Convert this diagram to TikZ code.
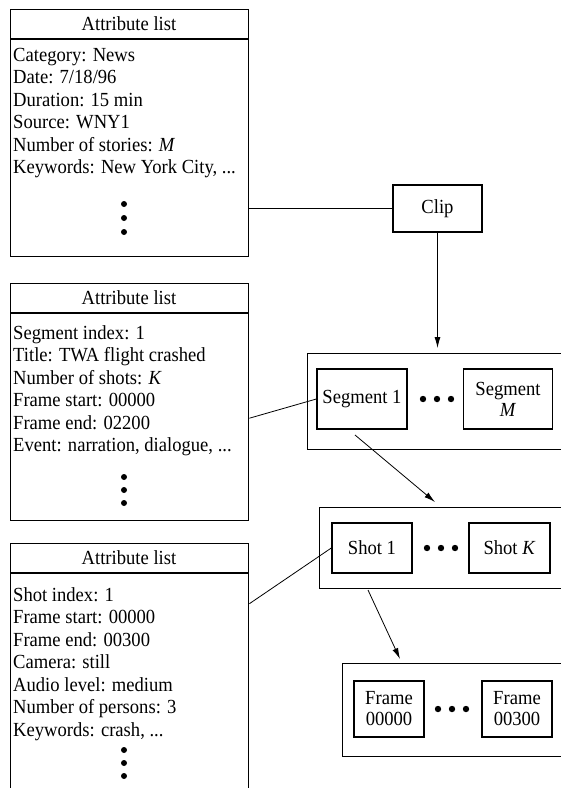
\documentclass[tikz,border=0pt]{standalone}
\usepackage{fontspec}
\setmainfont{Liberation Serif}[FakeStretch=0.93]
\usetikzlibrary{arrows.meta}
\tikzset{
    listbox/.style={draw, line width=1.4pt, anchor=north west, minimum width=238pt, inner sep=0pt},
    listtext/.style={anchor=north west, align=left, inner sep=0pt},
    itembox/.style={draw, line width=1.4pt, align=center, inner sep=0pt, font=\fontsize{20}{21}\selectfont},
    groupbox/.style={draw, line width=1.4pt, anchor=north west, inner sep=0pt},
    link/.style={line width=0.8pt}
}
\begin{document}
\begin{tikzpicture}[x=1pt, y=-1pt, >={Latex[length=11pt,width=6pt]},
        font=\fontsize{20}{22.5}\selectfont]
    \useasboundingbox (0,0) rectangle (561,788);
    % attribute lists
    \node[listbox, minimum height=247pt] (cliplist) at (10,9) {};
    \node[listbox, minimum height=237pt] (seglist) at (10,283) {};
    \node[listbox, minimum height=260pt] (shotlist) at (10,543) {};
    \foreach \y in {39,313,573} \draw[line width=1.4pt] (10,\y)--(248,\y);
    \foreach \y/\n in {24/cliphead,298/seghead,558/shothead} \node (\n) at (129,\y) {Attribute list};
    \node[listtext] (cliptext) at (13,48) {Category: News\\Date: 7/18/96\\Duration: 15 min\\Source: WNY1\\Number of stories: \textit{M}\\Keywords: New York City, ...};
    \node[listtext] (segtext) at (13,325) {Segment index: 1\\Title: TWA flight crashed\\Number of shots: \textit{K}\\Frame start: 00000\\Frame end: 02200\\Event: narration, dialogue, ...};
    \node[listtext] (shottext) at (13,587) {Shot index: 1\\Frame start: 00000\\Frame end: 00300\\Camera: still\\Audio level: medium\\Number of persons: 3\\Keywords: crash, ...};
    \foreach \y in {204,218,232,477,490,503,750,763,776} \fill (124,\y) circle (3);
    % hierarchy
    \node[itembox, minimum width=89pt, minimum height=47pt] (clip) at (437.5,208.5) {Clip};
    \node[groupbox, minimum width=280pt, minimum height=96pt] (segbox) at (307,353) {};
    \node[itembox, minimum width=90pt, minimum height=60pt] (seg1) at (362,399) {Segment 1};
    \node[itembox, minimum width=89pt, minimum height=60pt] (segM) at (508,399) {Segment\\\textit{M}};
    \node[groupbox, minimum width=260pt, minimum height=81pt] (shotbox) at (319,507) {};
    \node[itembox, minimum width=80pt, minimum height=50pt] (shot1) at (372,548) {Shot 1};
    \node[itembox, minimum width=81pt, minimum height=50pt] (shotK) at (509.5,548) {Shot \textit{K}};
    \node[groupbox, minimum width=240pt, minimum height=93pt] (framebox) at (342,663) {};
    \node[itembox, minimum width=70pt, minimum height=56pt] (frame1) at (389,709) {Frame\\00000};
    \node[itembox, minimum width=70pt, minimum height=56pt] (frame2) at (517,709) {Frame\\00300};
    \foreach \x in {423,437,451} \fill (\x,399) circle (3.2);
    \foreach \x in {427,441,455} \fill (\x,548) circle (3.2);
    \foreach \x in {438,452,466} \fill (\x,709) circle (3.2);
    % connectors
    \coordinate (segout) at (355,435);
    \coordinate (shotin) at (435,502);
    \coordinate (shotout) at (368,590);
    \coordinate (framein) at (400,659);
    \draw[link] (cliplist.east |- clip.west) -- (clip.west);
    \draw[link] ([yshift=-16pt]seglist.east) -- (seg1.west);
    \draw[link] ([yshift=70pt]shotlist.east) -- (shot1.west);
    \draw[link, ->, shorten >=5pt] (clip.south) -- (clip.south |- segbox.north);
    \draw[link, ->] (segout) -- (shotin);
    \draw[link, ->] (shotout) -- (framein);
\end{tikzpicture}
\end{document}
